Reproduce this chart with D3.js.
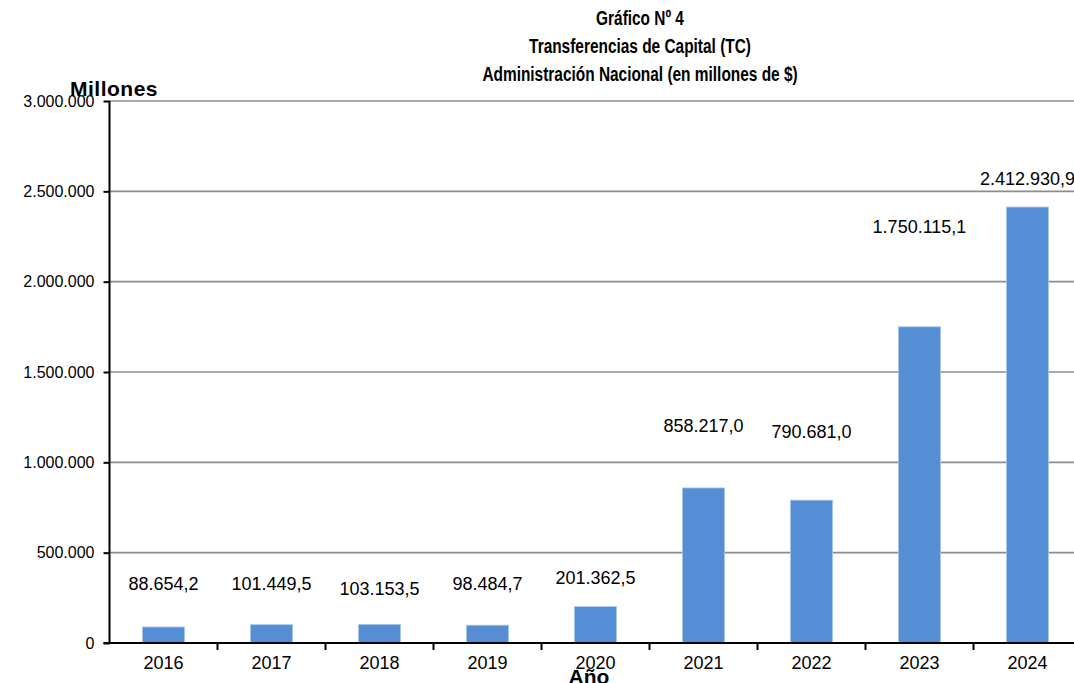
<!DOCTYPE html>
<html>
<head>
<meta charset="utf-8">
<script src="https://cdn.jsdelivr.net/npm/d3@7"></script>
<style>
  body { margin: 0; background: #fff; }
  svg { display: block; font-family: "Liberation Sans", Arial, sans-serif; }
</style>
</head>
<body>
<svg></svg>
<script>
const years = ["2016", "2017", "2018", "2019", "2020", "2021", "2022", "2023", "2024"];
const values = [88654.2, 101449.5, 103153.5, 98484.7, 201362.5, 858217.0, 790681.0, 1750115.1, 2412930.9];
// where each value label sits, in axis units (labels are placed by hand in the original)
const labelAt = [326600, 326600, 298900, 326600, 359800, 1201100, 1167900, 2302600, 2568300];
const yTicks = [0, 500000, 1000000, 1500000, 2000000, 2500000, 3000000];
const titleLines = ["Gráfico Nº 4", "Transferencias de Capital (TC)", "Administración Nacional (en millones de $)"];

const width = 1074, height = 683;
const margin = {top: 101, left: 109.5, bottom: 40};
const plotW = 972;

const fmt = d3.formatLocale({decimal: ",", thousands: ".", grouping: [3], currency: ["$", ""]});
const fmtTick = fmt.format(",.0f");
const fmtVal = fmt.format(",.1f");

const svg = d3.select("svg").attr("width", width).attr("height", height);

const x = d3.scaleBand().domain(years).range([margin.left, margin.left + plotW]).paddingInner(0.61).paddingOuter(0.305);
const y = d3.scaleLinear().domain([0, 3000000]).range([height - margin.bottom, margin.top]);

// gridlines
svg.append("g").selectAll("line")
    .data(yTicks.slice(1))
    .enter().append("line")
    .attr("x1", margin.left).attr("x2", width)
    .attr("y1", d => y(d)).attr("y2", d => y(d))
    .style("stroke", "#8c8c8c").style("stroke-width", 1.6);

// bars
svg.append("g").selectAll("rect")
    .data(values)
    .enter().append("rect")
    .attr("x", (d, i) => x(years[i]))
    .attr("width", x.bandwidth())
    .attr("y", d => y(d))
    .attr("height", d => y(0) - y(d))
    .style("fill", "#558ed5")
    .style("stroke", "#a9c6ee").style("stroke-width", 0.8);

// value labels
svg.append("g").selectAll("text")
    .data(values)
    .enter().append("text")
    .attr("x", (d, i) => x(years[i]) + x.bandwidth() / 2)
    .attr("y", (d, i) => y(labelAt[i]))
    .attr("dy", "0.35em")
    .attr("text-anchor", "middle")
    .style("font-size", "18px")
    .text(d => fmtVal(d));

// y axis
const yAxis = svg.append("g")
    .attr("transform", `translate(${margin.left},0)`)
    .call(d3.axisLeft(y).tickValues(yTicks).tickSize(6).tickPadding(9).tickFormat(fmtTick));
yAxis.select(".domain").attr("d", `M0,${y(3000000)}V${y(0)}`).style("stroke", "#000").style("stroke-width", 2);
yAxis.selectAll(".tick line").style("stroke", "#000").style("stroke-width", 2);
yAxis.selectAll(".tick text").style("font-size", "16px").style("font-family", "Liberation Sans, Arial, sans-serif").attr("fill", "#000");

// x axis: ticks between categories
const xAxis = svg.append("g").attr("transform", `translate(0,${y(0)})`);
xAxis.append("line")
    .attr("x1", margin.left - 6).attr("x2", width)
    .style("stroke", "#000").style("stroke-width", 2);
xAxis.selectAll(".sep")
    .data(years.slice(1))
    .enter().append("line")
    .attr("class", "sep")
    .attr("x1", d => x(d) - x.step() * x.paddingInner() / 2)
    .attr("x2", d => x(d) - x.step() * x.paddingInner() / 2)
    .attr("y1", 0).attr("y2", 7)
    .style("stroke", "#000").style("stroke-width", 2);
xAxis.selectAll(".year")
    .data(years)
    .enter().append("text")
    .attr("class", "year")
    .attr("x", d => x(d) + x.bandwidth() / 2)
    .attr("y", 20)
    .attr("dy", "0.35em")
    .attr("text-anchor", "middle")
    .style("font-size", "18px")
    .text(d => d);

// axis titles
svg.append("text")
    .attr("x", 70).attr("y", 96)
    .style("font-size", "21px").style("font-weight", "bold")
    .style("letter-spacing", "0.5px")
    .text("Millones");

svg.append("text")
    .attr("x", 589).attr("y", 684)
    .attr("text-anchor", "middle")
    .style("font-size", "21px").style("font-weight", "bold")
    .text("Año");

// title: the original uses a narrow bold face, so squeeze it horizontally
svg.append("g")
    .attr("transform", "translate(640,0) scale(0.735,1)")
    .selectAll("text")
    .data(titleLines)
    .enter().append("text")
    .attr("x", 0)
    .attr("y", (d, i) => 25 + i * 28)
    .attr("text-anchor", "middle")
    .style("font-size", "21px").style("font-weight", "bold")
    .text(d => d);
</script>
</body>
</html>
